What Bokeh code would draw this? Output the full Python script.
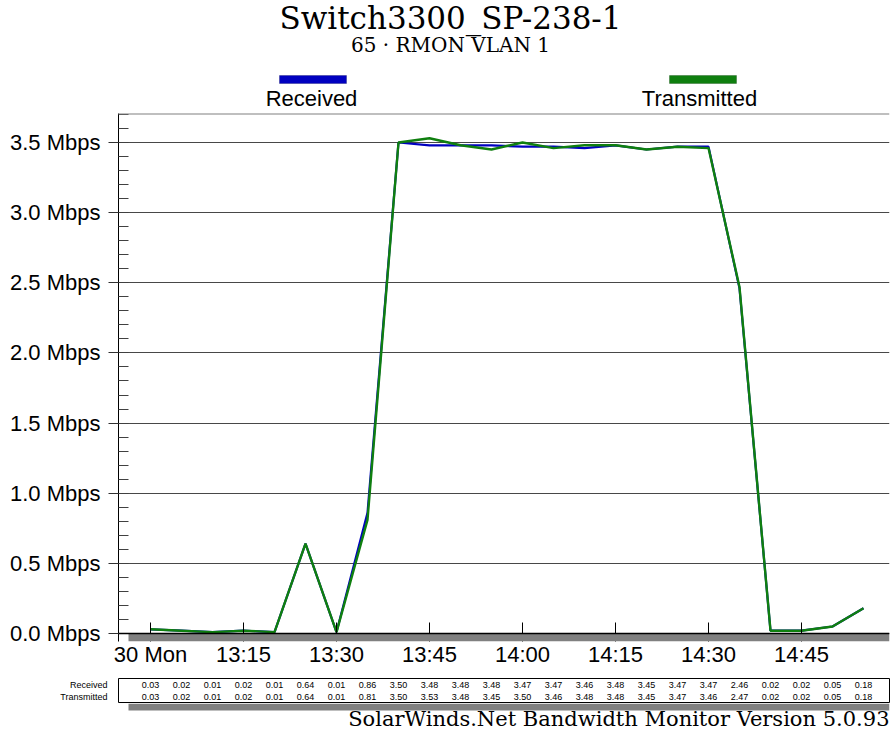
from bokeh.plotting import figure
from bokeh.models import (Range1d, FixedTicker, SingleIntervalTicker, PrintfTickFormatter,
                          Label, BoxAnnotation, Span, ColumnDataSource)
from bokeh.layouts import column
from bokeh.core.properties import value
from bokeh.embed import file_html
from bokeh.resources import INLINE

# ---------------- data ----------------
times = ["13:00", "13:05", "13:10", "13:15", "13:20", "13:25", "13:30", "13:35",
         "13:40", "13:45", "13:50", "13:55", "14:00", "14:05", "14:10", "14:15",
         "14:20", "14:25", "14:30", "14:35", "14:40", "14:45", "14:50", "14:55"]
received = [0.03, 0.02, 0.01, 0.02, 0.01, 0.64, 0.01, 0.86, 3.50, 3.48, 3.48, 3.48,
            3.47, 3.47, 3.46, 3.48, 3.45, 3.47, 3.47, 2.46, 0.02, 0.02, 0.05, 0.18]
transmitted = [0.03, 0.02, 0.01, 0.02, 0.01, 0.64, 0.01, 0.81, 3.50, 3.53, 3.48, 3.45,
               3.50, 3.46, 3.48, 3.48, 3.45, 3.47, 3.46, 2.47, 0.02, 0.02, 0.05, 0.18]
tick_times = ["13:00", "13:15", "13:30", "13:45", "14:00", "14:15", "14:30", "14:45"]
tick_labels = ["30 Mon", "13:15", "13:30", "13:45", "14:00", "14:15", "14:30", "14:45"]
series_names = ["Received", "Transmitted"]
title_text = "Switch3300_SP-238-1"
subtitle_text = "65 · RMON VLAN 1"
footer_text = "SolarWinds.Net Bandwidth Monitor Version 5.0.93"

def minutes(t):
    h, m = t.split(":")
    return (int(h) - 13) * 60 + int(m)

xs = [minutes(t) for t in times]
tick_x = [minutes(t) for t in tick_times]

BLUE = "#0000c0"
GREEN = "#0f7f0f"
SANS = "Liberation Sans"
SERIF = "DejaVu Serif"
W = 892
FL, FR = 118, 889          # frame left / right (page px), shared by all rows

def blank(height, yr):
    f = figure(width=W, height=height, x_range=Range1d(FL, FR), y_range=yr, title=None,
               x_axis_location=None, y_axis_location=None,
               output_backend="svg", toolbar_location=None,
               min_border_left=FL, min_border_right=W - FR, min_border_top=0,
               min_border_bottom=0)
    f.outline_line_color = None
    f.grid.visible = False
    return f

# ---------------- header: titles + legend ----------------
h = blank(113, Range1d(113, 0))
h.add_layout(Label(x=450, y=17, text=title_text, text_font=SERIF, text_font_size="31px",
                   text_align="center", text_baseline="alphabetic", text_color="black"))
h.add_layout(Label(x=450, y=44, text=subtitle_text, text_font=SERIF, text_font_size="20px",
                   text_align="center", text_baseline="alphabetic", text_color="black"))
for (l, r, cx, name, col, dark) in [(279, 346, 311, series_names[0], BLUE, "#00005a"),
                                   (669, 736, 699, series_names[1], GREEN, "#003c00")]:
    h.add_layout(BoxAnnotation(left=l, right=r, top=75, bottom=83, fill_color=col,
                               fill_alpha=1, line_color=dark, line_width=1))
    h.add_layout(Label(x=cx, y=98, text=name, text_font=SANS, text_font_size="22px",
                       text_align="center", text_baseline="alphabetic", text_color="black"))

# ---------------- main chart ----------------
px_per_min = 6.2
px_per_mbps = 140.29
x0_px = 150
y_top = (633 - 113) / px_per_mbps
y_bot = -(641 - 633) / px_per_mbps
x_range = Range1d((FL - x0_px) / px_per_min, (FR - x0_px) / px_per_min)

p = figure(width=W, height=560, title=None, x_range=x_range, y_range=Range1d(y_bot, y_top),
           output_backend="svg", toolbar_location=None,
           min_border_left=FL, min_border_right=W - FR, min_border_top=0, min_border_bottom=32)
p.outline_line_color = None
p.xgrid.visible = False
p.ygrid.ticker = SingleIntervalTicker(interval=0.5)
p.ygrid.grid_line_color = "#484848"

p.yaxis.ticker = SingleIntervalTicker(interval=0.5, num_minor_ticks=5)
p.yaxis.formatter = PrintfTickFormatter(format="%.1f Mbps")
p.yaxis.major_label_text_font = SANS
p.yaxis.major_label_text_font_size = "22px"
p.yaxis.major_label_text_color = "black"
p.yaxis.major_tick_out = 10
p.yaxis.major_tick_in = 0
p.yaxis.minor_tick_in = 10
p.yaxis.minor_tick_out = 0
p.yaxis.axis_line_color = "black"
p.yaxis.major_tick_line_color = "#303030"
p.yaxis.minor_tick_line_color = "#404040"
p.yaxis.major_label_standoff = 8

p.xaxis.ticker = FixedTicker(ticks=tick_x)
p.xaxis.major_label_overrides = {x: lab for x, lab in zip(tick_x, tick_labels)}
p.xaxis.major_label_text_font = SANS
p.xaxis.major_label_text_font_size = "22px"
p.xaxis.major_label_text_color = "black"
p.xaxis.major_tick_in = 19
p.xaxis.major_tick_out = 0
p.xaxis.minor_tick_line_color = None
p.xaxis.axis_line_color = None
p.xaxis.major_tick_line_color = "black"
p.xaxis.major_label_standoff = 0

# top border of plotting area
p.add_layout(Span(location=y_top, dimension="width", line_color="#808080", line_width=2))
# shadow under the x axis
p.add_layout(BoxAnnotation(left=10, left_units="screen", top=0, fill_color="#808080",
                           fill_alpha=1, line_color=None))
# x axis line
p.add_layout(Span(location=0, dimension="width", line_color="black", line_width=1.5))

src = ColumnDataSource(dict(x=xs, rx=received, tx=transmitted))
p.line("x", "rx", source=src, line_color=BLUE, line_width=2.2)
p.line("x", "tx", source=src, line_color=GREEN, line_width=2.4)

# ---------------- data table ----------------
t = figure(width=W, height=30, x_range=x_range, y_range=Range1d(0, 2), title=None,
           output_backend="svg", toolbar_location=None,
           min_border_left=FL, min_border_right=W - FR, min_border_top=5, min_border_bottom=1)
t.outline_line_color = "black"
t.outline_line_width = 1
t.grid.visible = False
t.xaxis.visible = False
t.yaxis.ticker = FixedTicker(ticks=[1.5, 0.5])
t.yaxis.major_label_overrides = {1.5: series_names[0], 0.5: series_names[1]}
t.yaxis.major_label_text_font = SANS
t.yaxis.major_label_text_font_size = "9px"
t.yaxis.major_label_text_color = "black"
t.yaxis.axis_line_color = None
t.yaxis.major_tick_line_color = None
t.yaxis.minor_tick_line_color = None
t.yaxis.major_label_standoff = 5

tsrc = ColumnDataSource(dict(x=xs, yr=[1.5] * len(xs), yt=[0.5] * len(xs),
                             r=["%.2f" % v for v in received],
                             tt=["%.2f" % v for v in transmitted]))
for ycol, tcol in [("yr", "r"), ("yt", "tt")]:
    t.text("x", ycol, text=tcol, source=tsrc, text_font=value(SANS), text_font_size="9px",
           text_align="center", text_baseline="middle", text_color="black")

# ---------------- footer ----------------
f = blank(30, Range1d(733, 703))
f.add_layout(BoxAnnotation(left=128, top=703, bottom=710, fill_color="#808080",
                           fill_alpha=1, line_color=None))
f.add_layout(Label(x=FR, y=718, text=footer_text, text_font=SERIF, text_font_size="21px",
                   text_align="right", text_baseline="alphabetic", text_color="black"))

layout = column(h, p, t, f, spacing=0)
open("out.html", "w").write(file_html(layout, INLINE))
